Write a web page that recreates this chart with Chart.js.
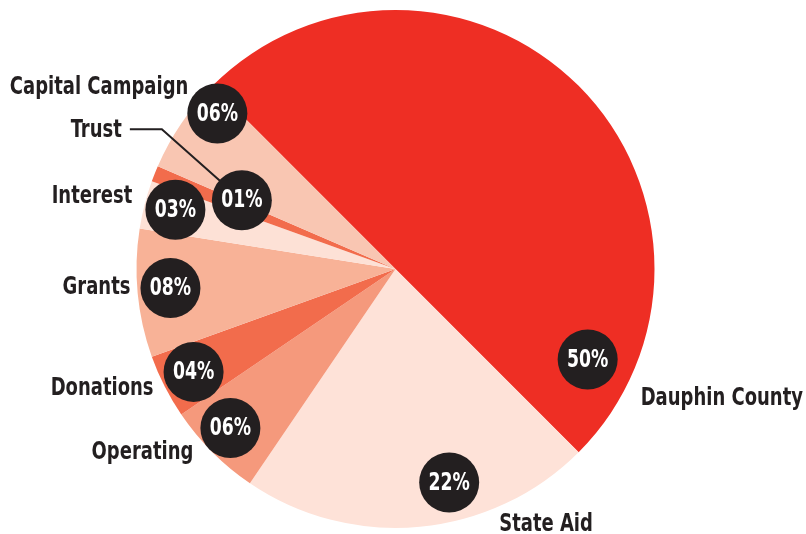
<!DOCTYPE html>
<html>
<head>
<meta charset="utf-8">
<script src="https://cdn.jsdelivr.net/npm/chart.js@4"></script>
<style>
  html,body{margin:0;padding:0;background:#fff;}
  #wrap{width:806px;height:534px;}
</style>
</head>
<body>
<div id="wrap"><canvas id="pie" width="806" height="534"></canvas></div>
<script>
// ===================== DATA =====================
const labels  = ['Dauphin County','State Aid','Operating','Donations','Grants','Interest','Trust','Capital Campaign'];
const values  = [50, 22, 6, 4, 8, 3, 1, 6];
const pctText = ['50%','22%','06%','04%','08%','03%','01%','06%'];
const colors  = ['#ee2e24','#fee2d8','#f5997c','#f26c4c','#f8b297','#fde1d6','#f26c4c','#f9c6b2'];

// bubble placement inside each slice: t = fraction along the slice angle, r = fraction of radius
const bubblePos = [
  {t:0.89,r:0.82},{t:0.39,r:0.85},{t:0.55,r:0.885},{t:0.50,r:0.875},
  {t:0.52,r:0.872},{t:0.56,r:0.88},{t:1.2,r:0.65},{t:0.82,r:0.913}
];
// label offsets from the bubble centre
const labelOff = [
  {dx:53,dy:39,align:'left'},{dx:50,dy:42,align:'left'},{dx:-37,dy:25,align:'right'},{dx:-40,dy:17,align:'right'},
  {dx:-40,dy:0,align:'right'},{dx:-43,dy:-13,align:'right'},{dx:-120,dy:-70,align:'right'},{dx:-29,dy:-26,align:'right'}
];

const FONT = "'Liberation Sans Narrow','DejaVu Sans Condensed','Arial Narrow',sans-serif";
const SQUEEZE = 0.8; // condensed look

// draw text squeezed horizontally around its anchor
function squeezedText(ctx, txt, x, y, align){
  ctx.save();
  ctx.translate(x, y);
  ctx.scale(SQUEEZE, 1);
  ctx.textAlign = align;
  ctx.fillText(txt, 0, 0);
  ctx.restore();
}

const bubblePlugin = {
  id:'bubbles',
  afterDatasetsDraw(chart){
    const ctx = chart.ctx;
    const arcs = chart.getDatasetMeta(0).data;
    ctx.save();
    ctx.textBaseline = 'middle';
    arcs.forEach((a,i)=>{
      const p = bubblePos[i];
      const ang = a.startAngle + (a.endAngle - a.startAngle)*p.t;
      const rr = a.outerRadius*p.r;
      const bx = a.x + Math.cos(ang)*rr, by = a.y + Math.sin(ang)*rr;
      const o = labelOff[i];
      const lx = bx + o.dx, ly = by + o.dy;

      // leader line for Trust
      if(labels[i]==='Trust'){
        ctx.strokeStyle = '#231f20'; ctx.lineWidth = 2;
        ctx.beginPath();
        ctx.moveTo(lx+8, ly-1); ctx.lineTo(lx+40, ly-1); ctx.lineTo(bx, by);
        ctx.stroke();
      }

      ctx.fillStyle = '#231f20';
      ctx.beginPath(); ctx.arc(bx, by, 30, 0, Math.PI*2); ctx.fill();

      ctx.fillStyle = '#fff';
      ctx.font = 'bold 24px '+FONT;
      squeezedText(ctx, pctText[i], bx, by+1, 'center');

      ctx.fillStyle = '#231f20';
      ctx.font = 'bold 25px '+FONT;
      squeezedText(ctx, labels[i], lx, ly, o.align);
    });
    ctx.restore();
  }
};

new Chart(document.getElementById('pie').getContext('2d'),{
  type:'pie',
  data:{labels, datasets:[{data:values, backgroundColor:colors, borderWidth:0}]},
  options:{
    responsive:false, animation:false, devicePixelRatio:1,
    rotation:-45,
    layout:{padding:{top:10,bottom:6,left:0,right:15}},
    plugins:{legend:{display:false},tooltip:{enabled:false}}
  },
  plugins:[bubblePlugin]
});
</script>
</body>
</html>
